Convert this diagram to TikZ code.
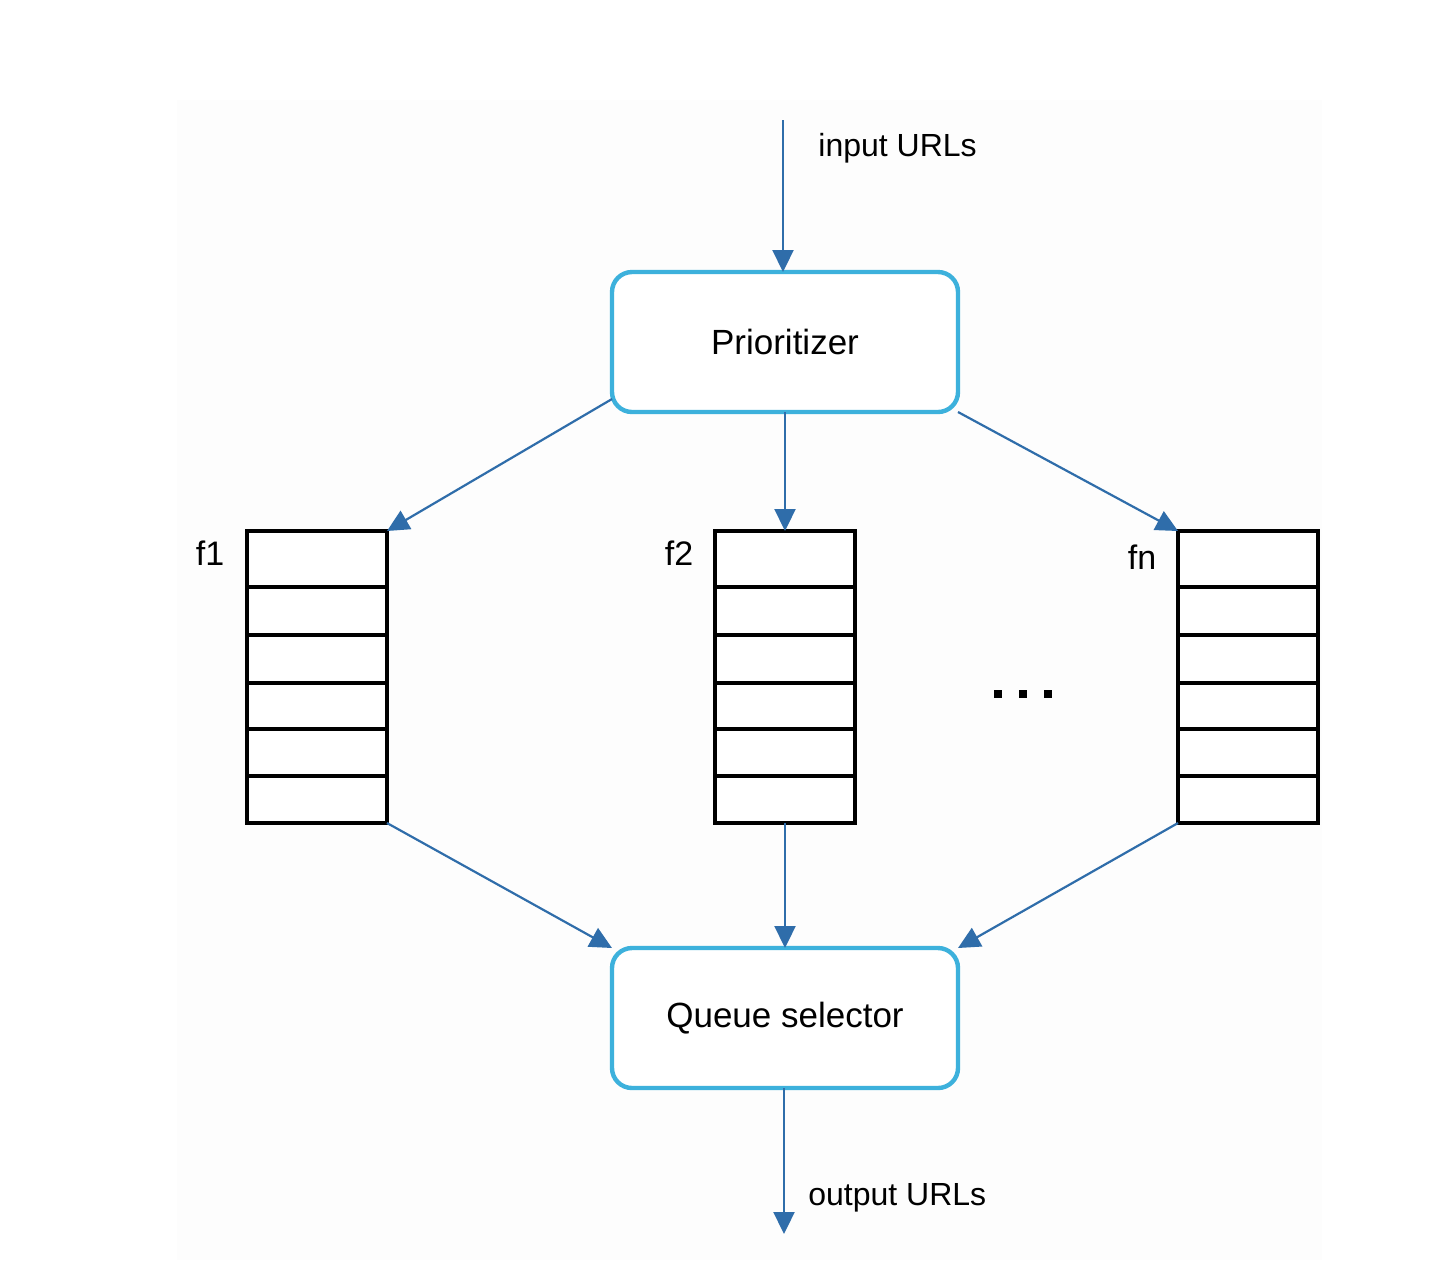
\documentclass[tikz,border=0pt]{standalone}
\usepackage{fontspec}
\setmainfont{Liberation Sans}
\usetikzlibrary{arrows.meta}
\definecolor{boxblue}{HTML}{3DB1DC}
\definecolor{arrblue}{HTML}{2F6DAA}
\definecolor{bgpanel}{HTML}{FDFDFD}
\tikzset{
  procbox/.style={draw=boxblue, line width=2.2pt, rounded corners=10pt, fill=white,
    minimum width=173pt, minimum height=70pt, inner sep=0pt, outer sep=0pt,
    font=\fontsize{17.5pt}{20pt}\selectfont},
  queuebox/.style={draw=black, line width=2pt, fill=white, minimum width=70pt,
    minimum height=146pt, inner sep=0pt, outer sep=0pt},
  cellline/.style={draw=black, line width=2pt},
  flow/.style={draw=arrblue, line width=1.1pt, -{Triangle[length=11pt,width=10.5pt]}},
  lbl/.style={font=\fontsize{16pt}{19pt}\selectfont, inner sep=0pt},
  qlbl/.style={font=\fontsize{17pt}{20pt}\selectfont, inner sep=0pt},
  dotsq/.style={fill=black, minimum size=4pt, inner sep=0pt},
}
\begin{document}
\begin{tikzpicture}[x=0.5pt, y=-0.5pt]
\useasboundingbox (0,0) rectangle (1434,1260);
\fill[bgpanel] (177,100) rectangle (1322,1260);

% boxes
\node[procbox] (prio) at (785,342) {Prioritizer};
\node[procbox] (qsel) at (785,1018) {Queue selector};

% queues
\node[queuebox] (q1) at (317,677) {};
\node[queuebox] (q2) at (785,677) {};
\node[queuebox] (qn) at (1248,677) {};
\foreach \q/\xl/\xr in {q1/247/387, q2/715/855, qn/1178/1318}{
  \foreach \yy in {587,635,683,729,776}{
    \draw[cellline] (\xl,\yy) -- (\xr,\yy);
  }
}

% queue labels
\node[qlbl] (l1) at (210,553) {f1};
\node[qlbl] (l2) at (679,553) {f2};
\node[qlbl] (ln) at (1142,557) {fn};

% dots
\node[dotsq] (d1) at (998,694) {};
\node[dotsq] (d2) at (1023,694) {};
\node[dotsq] (d3) at (1048,694) {};

% input / output
\coordinate (inTop) at (783,120);
\coordinate (outEnd) at (784,1234);
\node[lbl, anchor=west] (inlbl) at (818,148) {input URLs};
\node[lbl, anchor=west] (outlbl) at (808,1198) {output URLs};

\draw[flow] (inTop) -- (prio.north -| inTop);
\draw[flow] ([yshift=6.5pt]prio.south west) -- (q1.north east);
\draw[flow] (prio.south) -- (q2.north);
\draw[flow] (prio.south east) -- (qn.north west);
\draw[flow] (q1.south east) -- (qsel.north west);
\draw[flow] (q2.south) -- (qsel.north);
\draw[flow] (qn.south west) -- (qsel.north east);
\draw[flow] (qsel.south -| outEnd) -- (outEnd);
\end{tikzpicture}
\end{document}
